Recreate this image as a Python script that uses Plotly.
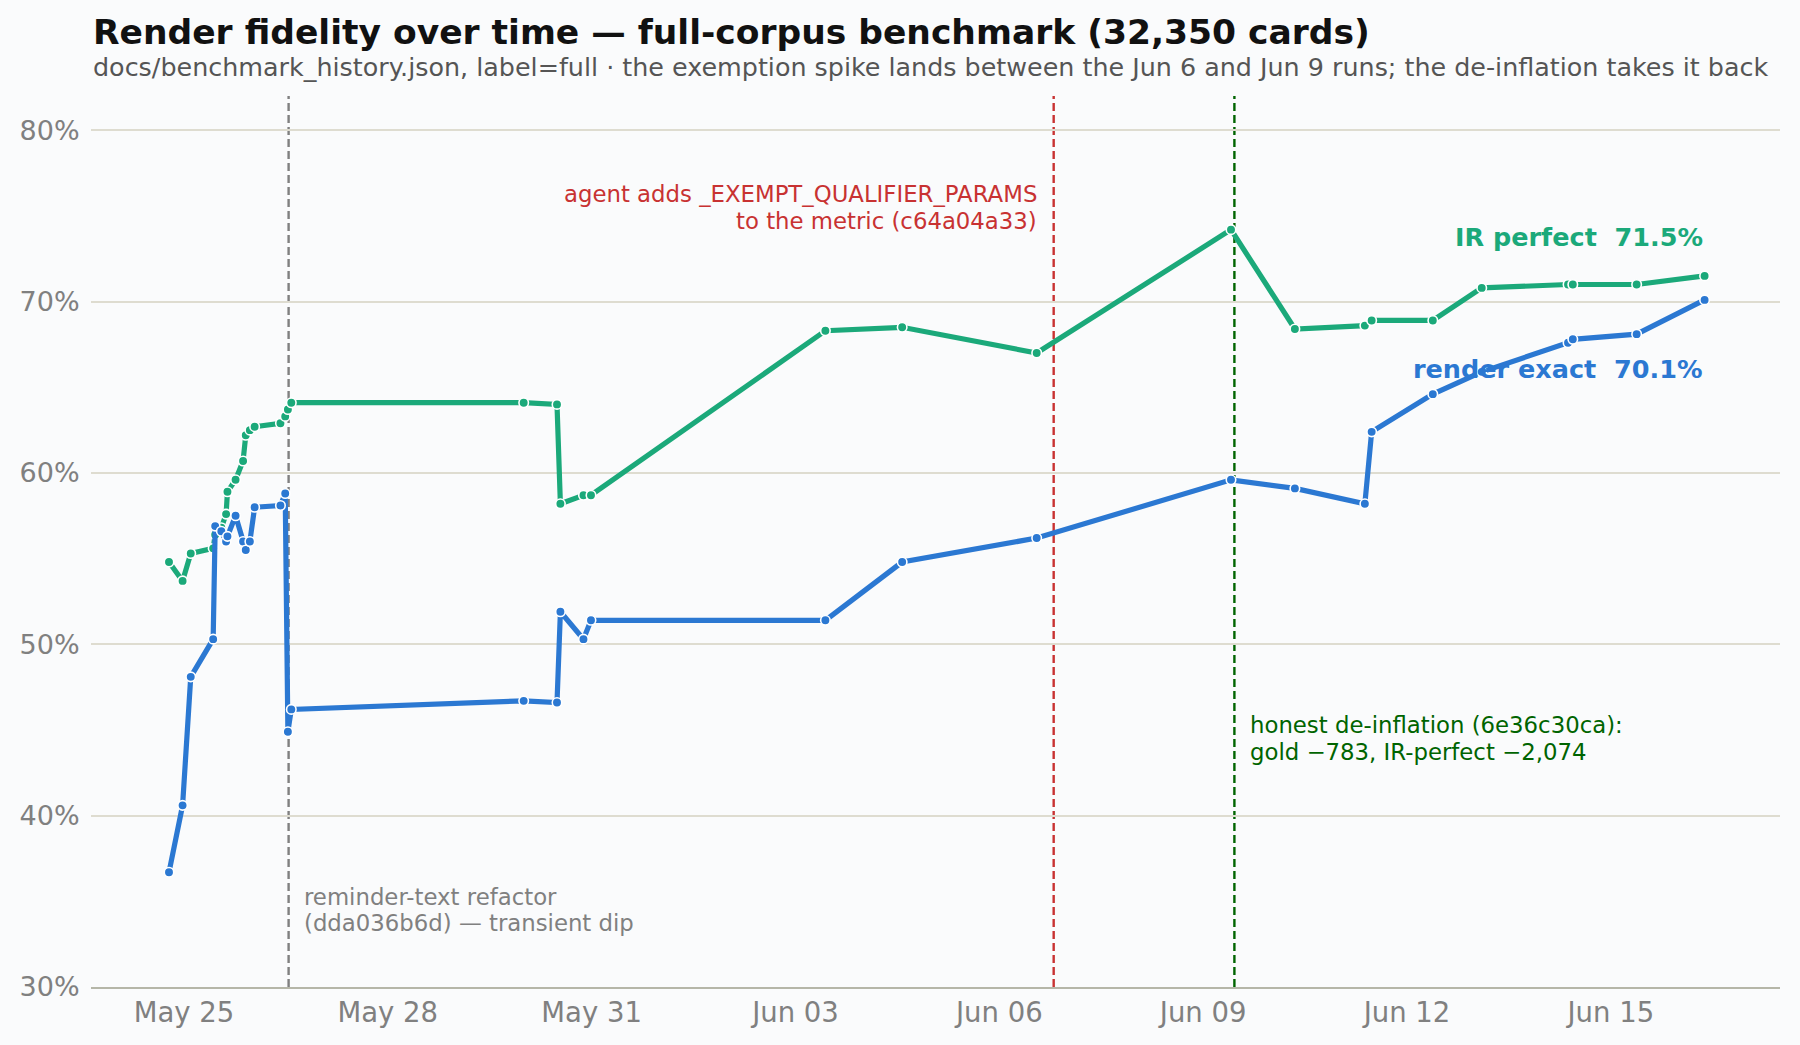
import plotly.graph_objects as go

# ---- data ----
run_times = [
    "2025-05-24 18:43", "2025-05-24 23:31", "2025-05-25 02:24", "2025-05-25 10:19",
    "2025-05-25 11:02", "2025-05-25 13:12", "2025-05-25 14:53", "2025-05-25 15:22",
    "2025-05-25 18:14", "2025-05-25 20:53", "2025-05-25 21:50", "2025-05-25 23:17",
    "2025-05-26 00:58", "2025-05-26 10:05", "2025-05-26 11:46", "2025-05-26 12:43",
    "2025-05-26 13:55", "2025-05-30 00:00", "2025-05-30 11:46", "2025-05-30 12:58",
    "2025-05-30 21:07", "2025-05-30 23:46", "2025-06-03 10:34", "2025-06-04 13:41",
    "2025-06-06 13:12", "2025-06-09 09:50", "2025-06-10 08:24", "2025-06-11 09:07",
    "2025-06-11 11:31", "2025-06-12 09:07", "2025-06-13 02:24", "2025-06-14 08:53",
    "2025-06-14 10:34", "2025-06-15 09:07", "2025-06-16 09:07",
]
ir_perfect = [
    54.8, 53.7, 55.3, 55.6, 56.4, 56.8, 57.6, 58.9, 59.6, 60.7, 62.2, 62.5,
    62.7, 62.9, 63.3, 63.7, 64.1, 64.1, 64.0, 58.2, 58.7, 58.7, 68.3, 68.5,
    67.0, 74.2, 68.4, 68.6, 68.9, 68.9, 70.8, 71.0, 71.0, 71.0, 71.5,
]
render_exact = [
    36.7, 40.6, 48.1, 50.3, 56.9, 56.6, 56.0, 56.3, 57.5, 56.0, 55.5, 56.0,
    58.0, 58.1, 58.8, 44.9, 46.2, 46.7, 46.6, 51.9, 50.3, 51.4, 51.4, 54.8,
    56.2, 59.6, 59.1, 58.2, 62.4, 64.6, 65.9, 67.6, 67.8, 68.1, 70.1,
]

event_times = ["2025-05-26 12:58", "2025-06-06 19:12", "2025-06-09 11:02"]
event_colors = ["#808080", "#c83232", "#006400"]
event_lines = [
    ["reminder-text refactor", "(dda036b6d) — transient dip"],
    ["agent adds _EXEMPT_QUALIFIER_PARAMS", "to the metric (c64a04a33)"],
    ["honest de-inflation (6e36c30ca):", "gold −783, IR-perfect −2,074"],
]
event_text_y = [34.5, 75.5, 44.5]

x_tickvals = ["2025-05-25", "2025-05-28", "2025-05-31", "2025-06-03",
              "2025-06-06", "2025-06-09", "2025-06-12", "2025-06-15"]
x_ticktext = ["May 25", "May 28", "May 31", "Jun 03", "Jun 06", "Jun 09", "Jun 12", "Jun 15"]
y_tickvals = [30, 40, 50, 60, 70, 80]
y_ticktext = ["30%", "40%", "50%", "60%", "70%", "80%"]

GREEN = "#1ba97a"
BLUE = "#2b78d2"
FONT = "DejaVu Sans"
BG = "#fafbfc"

fig = go.Figure()
for name, vals, col in [("IR perfect", ir_perfect, GREEN), ("render exact", render_exact, BLUE)]:
    fig.add_trace(go.Scatter(
        x=run_times, y=vals, mode="lines+markers", name=name,
        line=dict(color=col, width=5.2),
        marker=dict(color=col, size=9.5, line=dict(color="white", width=1.6)),
        showlegend=False,
    ))

# event lines
for t, c in zip(event_times, event_colors):
    fig.add_shape(type="line", xref="x", yref="paper", x0=t, x1=t, y0=0, y1=1,
                  line=dict(color=c, width=2.4, dash="8px,4px"), layer="between")

anchors = [("left", 13), ("right", -15), ("left", 14)]
text_colors = ["#808080", "#c83232", "#006400"]
LINE_GAP = 26.5
for t, lines, yv, (xa, sh), tc in zip(event_times, event_lines, event_text_y, anchors, text_colors):
    n = len(lines)
    for i, ln in enumerate(lines):
        fig.add_annotation(x=t, y=yv, xref="x", yref="y", text=ln, showarrow=False,
                           xanchor=xa, xshift=sh, yshift=((n - 1) / 2 - i) * LINE_GAP,
                           align=xa, yanchor="middle",
                           font=dict(family=FONT, size=22.8, color=tc))

# end labels
fig.add_annotation(x=run_times[-1], y=73.8, text="IR perfect\u00a0\u00a0" + f"{ir_perfect[-1]:.1f}%",
                   showarrow=False, xanchor="right", yanchor="middle",
                   font=dict(family=FONT, size=25.5, color=GREEN, weight="bold"))
fig.add_annotation(x=run_times[-1], y=66.05, text="render exact\u00a0\u00a0" + f"{render_exact[-1]:.1f}%",
                   showarrow=False, xanchor="right", yanchor="middle",
                   font=dict(family=FONT, size=25.5, color=BLUE, weight="bold"))

# title and subtitle
fig.add_annotation(xref="paper", yref="paper", x=0, y=1.0715, xanchor="left", yanchor="middle",
                   text="<b>Render fidelity over time — full-corpus benchmark (32,350 cards)</b>",
                   showarrow=False, font=dict(family=FONT, size=34.5, color="#111111"))
fig.add_annotation(xref="paper", yref="paper", x=0, y=1.033, xanchor="left", yanchor="middle",
                   text="docs/benchmark_history.json, label=full · the exemption spike lands between the Jun 6 and Jun 9 runs; the de-inflation takes it back",
                   showarrow=False, font=dict(family=FONT, size=25.4, color="#555555"))

fig.update_layout(
    width=1800, height=1045,
    margin=dict(l=91, r=20, t=96, b=58),
    paper_bgcolor=BG, plot_bgcolor=BG,
    font=dict(family=FONT),
    xaxis=dict(
        range=["2025-05-23 15:10", "2025-06-17 11:45"],
        tickvals=x_tickvals, ticktext=x_ticktext,
        showgrid=False, zeroline=False,
        showline=True, linecolor="#b5b6a8", linewidth=2,
        ticks="outside", ticklen=0, tickcolor="rgba(0,0,0,0)",
        tickfont=dict(family=FONT, size=27.5, color="#808080"),
    ),
    yaxis=dict(
        range=[30, 82], tickvals=y_tickvals, ticktext=y_ticktext,
        showgrid=True, gridcolor="#dedcd0", gridwidth=1.5,
        zeroline=False, showline=False,
        ticks="outside", ticklen=5, tickcolor="rgba(0,0,0,0)",
        tickfont=dict(family=FONT, size=27, color="#808080"),
    ),
)

fig.write_html("out.html")
